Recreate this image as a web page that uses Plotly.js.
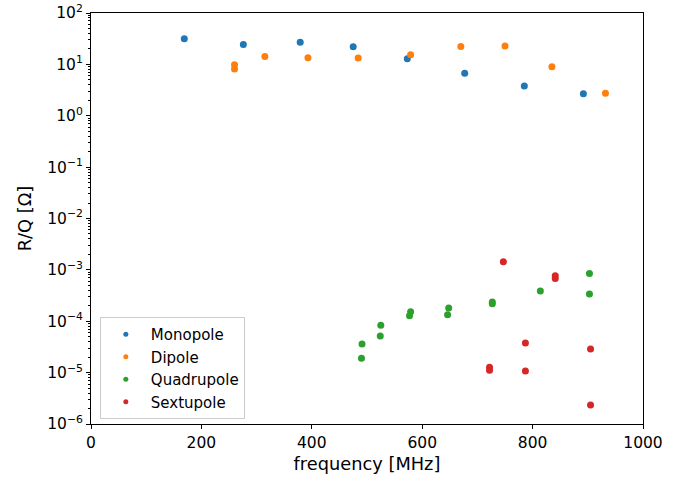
<!DOCTYPE html>
<html>
<head>
<meta charset="utf-8">
<script src="https://cdn.plot.ly/plotly-3.0.1.min.js"></script>
<style>html,body{margin:0;padding:0;background:#fff;}#chart{width:688px;height:481px;}</style>
</head>
<body>
<div id="chart"></div>
<script>
// Data
const monoFreq = [169, 276, 379, 475, 573, 677, 785, 892];
const monoRQ   = [31.4, 24.4, 27.1, 22.0, 12.9, 6.7, 3.8, 2.67];

const dipFreq = [260, 260, 315, 393, 484, 579, 670, 750, 835, 932];
const dipRQ   = [9.86, 8.1, 14.3, 13.5, 13.3, 15.4, 22.3, 22.7, 9.0, 2.75];

const quadFreq = [490, 491, 524, 525, 577, 579, 646, 648, 727, 727, 814, 903, 903];
const quadRQ   = [1.9e-5, 3.6e-5, 5.15e-5, 8.4e-5, 1.28e-4, 1.53e-4, 1.34e-4, 1.81e-4, 2.19e-4, 2.37e-4, 3.87e-4, 3.38e-4, 8.5e-4];

const sextFreq = [747, 841, 841, 787, 787, 722, 722, 905, 905];
const sextRQ   = [1.44e-3, 7.7e-4, 6.8e-4, 3.77e-5, 1.07e-5, 1.27e-5, 1.11e-5, 2.88e-5, 2.35e-6];

const seriesNames = ["Monopole", "Dipole", "Quadrupole", "Sextupole"];
const seriesColors = ["#1f77b4", "#ff7f0e", "#2ca02c", "#d62728"];

const xTicks = [0, 200, 400, 600, 800, 1000];
const yTickExp = [2, 1, 0, -1, -2, -3, -4, -5, -6];

const xs = [monoFreq, dipFreq, quadFreq, sextFreq];
const ys = [monoRQ, dipRQ, quadRQ, sextRQ];

const traces = xs.map((x, i) => ({
  x: x, y: ys[i], name: seriesNames[i], type: 'scatter', mode: 'markers',
  marker: {color: seriesColors[i], size: 7}, showlegend: false
}));
// legend entries with smaller markers (as in the reference legend)
seriesNames.forEach((n, i) => traces.push({
  x: [null], y: [null], name: n, type: 'scatter', mode: 'markers',
  marker: {color: seriesColors[i], size: 5}, showlegend: true
}));

const tickFont = {family: 'DejaVu Sans', size: 15.5, color: '#000'};
const titleFont = {family: 'DejaVu Sans', size: 17.8, color: '#000'};

const layout = {
  width: 688, height: 481,
  margin: {l: 91, r: 45, t: 13, b: 57},
  paper_bgcolor: '#fff', plot_bgcolor: '#fff',
  font: tickFont,
  showlegend: true,
  legend: {
    x: 0.016, y: 0.012, xanchor: 'left', yanchor: 'bottom',
    bgcolor: 'rgba(255,255,255,0.8)', bordercolor: '#cccccc', borderwidth: 1,
    font: {family: 'DejaVu Sans', size: 15, color: '#000'},
    itemsizing: 'trace', tracegroupgap: 0, itemwidth: 40
  },
  xaxis: {
    range: [0, 1000], showgrid: false, zeroline: false,
    showline: true, linecolor: '#000', linewidth: 1, mirror: true,
    ticks: 'outside', ticklen: 4, tickcolor: '#000', tickfont: tickFont,
    tickvals: xTicks, ticktext: xTicks.map(String),
    title: {text: 'frequency [MHz]', font: titleFont, standoff: 6}
  },
  yaxis: {
    type: 'log', range: [-6, 2], showgrid: false, zeroline: false,
    showline: true, linecolor: '#000', linewidth: 1, mirror: true,
    ticks: 'outside', ticklen: 4, tickcolor: '#000', tickfont: tickFont,
    tickvals: yTickExp.map(e => Math.pow(10, e)),
    ticktext: yTickExp.map(e => '10<sup>' + (e < 0 ? '\u2212' + (-e) : e) + '</sup>'),
    minor: {ticks: 'outside', ticklen: 2, tickcolor: '#000', dtick: 'D1', showgrid: false},
    title: {text: 'R/Q [\u03A9]', font: titleFont, standoff: 10}
  }
};

Plotly.newPlot('chart', traces, layout, {displayModeBar: false, staticPlot: true});
</script>
</body>
</html>
